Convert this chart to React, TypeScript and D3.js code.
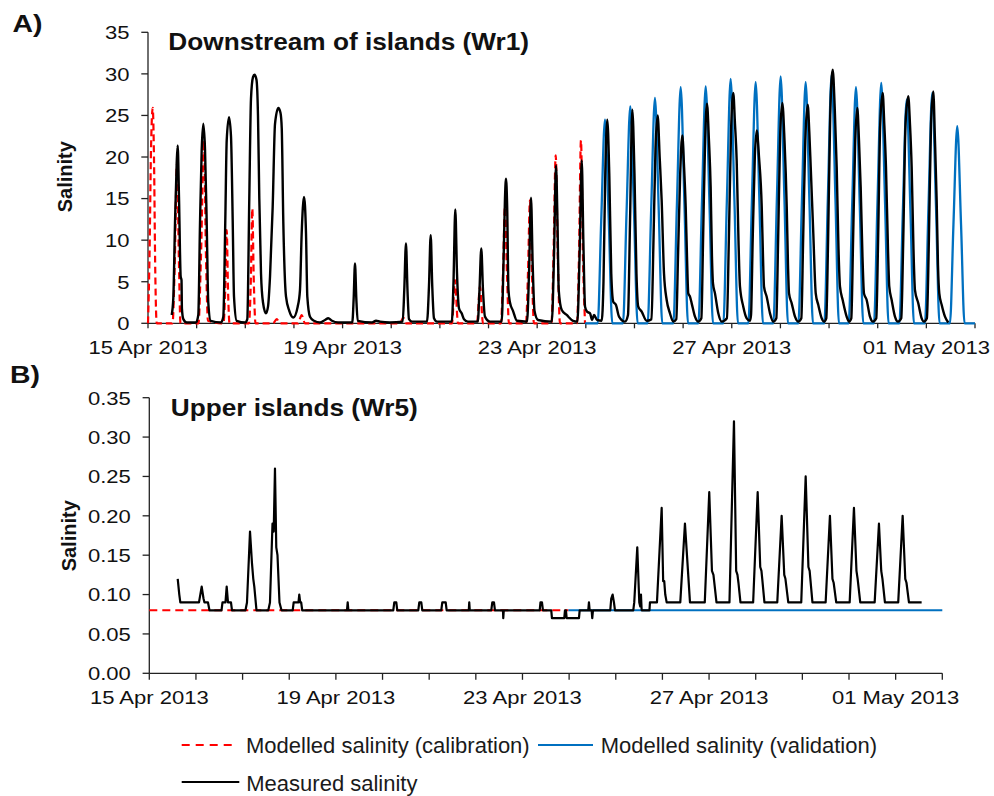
import React, { useEffect, useRef } from 'react';
import {
  curveLinear,
  curveMonotoneX,
  line,
  scaleLinear,
  scaleUtc,
  select,
  utcDay,
  utcFormat,
} from 'd3';

// time is in decimal days after 15 Apr 2013 00:00
const START = Date.UTC(2013, 3, 15);
const END = Date.UTC(2013, 4, 2);
const DAY = 86400000;

const wr1Ticks = [0, 5, 10, 15, 20, 25, 30, 35];
const wr5Ticks = [0, 0.05, 0.1, 0.15, 0.2, 0.25, 0.3, 0.35];

const legendLabels = [
  'Modelled salinity (calibration)',
  'Modelled salinity (validation)',
  'Measured salinity',
];

// A) Downstream of islands (Wr1)
const wr1Calibration: [number, number][] = [
  [0, 0], [0.031, 8], [0.062, 21], [0.097, 25.9], [0.123, 20], [0.15, 6], [0.179, 0],
  [0.504, 0], [0.545, 6], [0.596, 19.2], [0.637, 7], [0.668, 0],
  [1.038, 0], [1.089, 8], [1.151, 22], [1.192, 8], [1.233, 0.3],
  [1.552, 0], [1.587, 4], [1.618, 11.2], [1.645, 4], [1.676, 0],
  [2.076, 0], [2.113, 5], [2.144, 13.8], [2.175, 5], [2.21, 0],
  [2.57, 0], [2.646, 0.5], [2.713, 0],
  [3.083, 0], [3.159, 1.0], [3.227, 0],
  [5.18, 0], [5.248, 0.7], [5.303, 0],
  [6.249, 0], [6.31, 5.2], [6.372, 0],
  [6.762, 0], [6.824, 4.4], [6.886, 0],
  [7.256, 0], [7.297, 6], [7.338, 14], [7.379, 6], [7.42, 0],
  [7.77, 0], [7.811, 6], [7.852, 14.8], [7.893, 6], [7.934, 0],
  [8.294, 0], [8.335, 8], [8.381, 20.2], [8.424, 8], [8.469, 0],
  [8.818, 0], [8.859, 8], [8.9, 22], [8.941, 8], [8.984, 0],
];

const wr1Validation: [number, number][] = [
  [8.984, 0],
  [9.244, 0], [9.316, 12.3], [9.394, 24.5], [9.472, 12.3], [9.544, 0],
  [9.764, 0], [9.836, 13.1], [9.914, 26.1], [9.992, 13.1], [10.064, 0],
  [10.271, 0], [10.343, 13.6], [10.421, 27.1], [10.499, 13.6], [10.571, 0],
  [10.8, 0], [10.872, 14.2], [10.95, 28.4], [11.028, 14.2], [11.1, 0],
  [11.314, 0], [11.386, 14.3], [11.464, 28.5], [11.542, 14.3], [11.614, 0],
  [11.827, 0], [11.899, 14.7], [11.977, 29.4], [12.055, 14.7], [12.127, 0],
  [12.341, 0], [12.413, 14.5], [12.491, 29.0], [12.569, 14.5], [12.641, 0],
  [12.855, 0], [12.927, 14.9], [13.005, 29.7], [13.083, 14.9], [13.155, 0],
  [13.369, 0], [13.441, 14.5], [13.519, 29.0], [13.597, 14.5], [13.669, 0],
  [13.903, 0], [13.975, 15.0], [14.053, 29.9], [14.131, 15.0], [14.203, 0],
  [14.403, 0], [14.475, 14.2], [14.553, 28.4], [14.631, 14.2], [14.703, 0],
  [14.923, 0], [14.995, 14.5], [15.073, 28.9], [15.151, 14.5], [15.223, 0],
  [15.445, 0], [15.517, 13.5], [15.595, 26.9], [15.673, 13.5], [15.745, 0],
  [15.971, 0], [16.043, 13.9], [16.121, 27.7], [16.199, 13.9], [16.271, 0],
  [16.485, 0], [16.557, 11.9], [16.635, 23.7], [16.713, 11.9], [16.785, 0],
  [17, 0],
];

const wr1Measured: [number, number][] = [
  [0.487, 1.0], [0.52, 3], [0.555, 12], [0.59, 19.3], [0.61, 21.4], [0.637, 15.2], [0.672, 5.6],
  [0.689, 5.2], [0.697, 1.8], [0.726, 0.5], [0.795, 0.1], [0.987, 0.1],
  [1.034, 1], [1.069, 12], [1.104, 20.9], [1.137, 24.0], [1.172, 20.9], [1.207, 12], [1.239, 2.5],
  [1.289, 0.3], [1.5, 0.1],
  [1.548, 0.8], [1.589, 12.4], [1.618, 22], [1.665, 24.8], [1.706, 22.5], [1.741, 12.4],
  [1.768, 3.2], [1.823, 0.3], [2.0, 0.1],
  [2.041, 0.5], [2.082, 15], [2.117, 27], [2.158, 29.6], [2.189, 29.9], [2.23, 29.3], [2.261, 25],
  [2.288, 15], [2.323, 6], [2.364, 2.5], [2.425, 1.2], [2.467, 2], [2.508, 5.6], [2.563, 14],
  [2.611, 24], [2.679, 25.9], [2.724, 25.3], [2.749, 23.5], [2.782, 12], [2.837, 3.2],
  [2.904, 1.5], [2.987, 0.7], [3.077, 2], [3.124, 4], [3.159, 10.8], [3.207, 15.2],
  [3.248, 10.8], [3.275, 3.2], [3.33, 0.8], [3.412, 0.3], [3.535, 0.1],
  [3.638, 0.4], [3.706, 0.6], [3.782, 0.3], [3.906, 0.1],
  [4.199, 0.1], [4.228, 3], [4.255, 7.2], [4.282, 3], [4.311, 0.3],
  [4.605, 0.1], [4.687, 0.3], [4.769, 0.2], [4.974, 0.1],
  [5.235, 0.2], [5.268, 4], [5.303, 9.6], [5.334, 4], [5.365, 0.5], [5.427, 0.2],
  [5.735, 0.2], [5.776, 4.5], [5.811, 10.6], [5.843, 4.5], [5.879, 0.6], [5.94, 0.2],
  [6.245, 0.2], [6.28, 5], [6.317, 13.7], [6.352, 6], [6.393, 1.8], [6.448, 1.2], [6.496, 0.5],
  [6.578, 0.2],
  [6.779, 0.2], [6.814, 4], [6.851, 9.0], [6.886, 4], [6.927, 0.8], [7.03, 0.2],
  [7.27, 0.2], [7.307, 7], [7.338, 15], [7.359, 17.4], [7.383, 14], [7.41, 4], [7.441, 2.5],
  [7.503, 1.5], [7.585, 0.3],
  [7.791, 0.2], [7.832, 6], [7.873, 15.1], [7.908, 7], [7.945, 1.5], [8.017, 0.4],
  [8.3, 0.2], [8.346, 8], [8.387, 19.0], [8.418, 12], [8.443, 4], [8.505, 1.6], [8.607, 1],
  [8.737, 0.3],
  [8.826, 0.2], [8.871, 8], [8.916, 19.6], [8.949, 10], [8.984, 2], [9.025, 1.4], [9.087, 1.2],
  [9.128, 0.4], [9.169, 1.0], [9.231, 0.4], [9.326, 0.3],
  [9.363, 5], [9.4, 18], [9.441, 24.5], [9.482, 18], [9.523, 6], [9.564, 2.6], [9.62, 2.2],
  [9.682, 0.8], [9.805, 0.2],
  [9.867, 1], [9.908, 12], [9.955, 25.7], [10.0, 18], [10.041, 6], [10.078, 2], [10.148, 1.4],
  [10.251, 0.3],
  [10.35, 0.5], [10.391, 10], [10.432, 21], [10.477, 25.0], [10.518, 20], [10.559, 14.8],
  [10.607, 6], [10.662, 2.8], [10.73, 1.2], [10.798, 0.2],
  [10.86, 0.5], [10.895, 8], [10.94, 18], [10.983, 22.6], [11.018, 19], [11.053, 14],
  [11.08, 8], [11.106, 3.6], [11.141, 3.2], [11.176, 2.4], [11.244, 0.8], [11.311, 0.2],
  [11.375, 0.6], [11.41, 10], [11.452, 22], [11.49, 26.4], [11.531, 22], [11.566, 16.4],
  [11.593, 8], [11.614, 4.8], [11.655, 3.6], [11.723, 1.2], [11.793, 0.2],
  [11.9, 0.6], [11.94, 10], [11.985, 23], [12.031, 27.7], [12.066, 24], [12.101, 19.6],
  [12.138, 10], [12.169, 4.4], [12.237, 2], [12.307, 0.6], [12.375, 0.3],
  [12.396, 1], [12.43, 10], [12.474, 20], [12.513, 23.2], [12.56, 20], [12.616, 14],
  [12.642, 8], [12.663, 4.4], [12.718, 3.2], [12.786, 1.2], [12.854, 0.2],
  [12.916, 0.6], [12.953, 10], [12.997, 23], [13.039, 26.5], [13.084, 22], [13.13, 14],
  [13.156, 7], [13.177, 3.6], [13.232, 2.4], [13.3, 0.8], [13.368, 0.2],
  [13.43, 0.6], [13.467, 10], [13.511, 22], [13.561, 26.3], [13.594, 23], [13.623, 18.8],
  [13.676, 10.8], [13.726, 3.6], [13.779, 2.2], [13.849, 0.6], [13.896, 0.2],
  [13.943, 0.6], [13.98, 10], [14.024, 25], [14.075, 30.5], [14.116, 26], [14.157, 18.8],
  [14.194, 9], [14.225, 4.4], [14.28, 2.8], [14.362, 0.8], [14.41, 0.2],
  [14.457, 0.6], [14.494, 10], [14.538, 22], [14.58, 25.9], [14.615, 22], [14.65, 16.4],
  [14.687, 8], [14.718, 3.6], [14.773, 2.8], [14.841, 0.8], [14.903, 0.2],
  [14.971, 0.6], [15.008, 10], [15.052, 24], [15.102, 27.7], [15.135, 24], [15.17, 18.8],
  [15.211, 9], [15.238, 4.4], [15.287, 2.8], [15.355, 0.8], [15.417, 0.2],
  [15.484, 0.6], [15.525, 10], [15.572, 24], [15.628, 27.3], [15.663, 24], [15.698, 18.8],
  [15.735, 9], [15.766, 4], [15.834, 2.4], [15.904, 0.6], [15.951, 0.2],
  [16.011, 0.6], [16.052, 10], [16.096, 24], [16.142, 27.9], [16.177, 22], [16.212, 14.8],
  [16.239, 7], [16.266, 3.6], [16.316, 2.2], [16.383, 0.8], [16.45, 0.1],
];

// B) Upper islands (Wr5)
const wr5Calibration: [number, number][] = [[0, 0.08], [8.984, 0.08]];
const wr5Validation: [number, number][] = [[8.984, 0.08], [17, 0.08]];

const wr5Measured: [number, number][] = [
  [0.609, 0.12], [0.643, 0.1], [0.665, 0.09], [1.065, 0.09], [1.123, 0.11], [1.162, 0.095],
  [1.183, 0.09], [1.258, 0.09], [1.29, 0.08], [1.548, 0.08], [1.569, 0.09], [1.633, 0.09],
  [1.659, 0.11], [1.687, 0.09], [1.751, 0.09], [1.773, 0.08], [2.062, 0.08], [2.094, 0.09],
  [2.159, 0.18], [2.201, 0.14], [2.229, 0.12], [2.251, 0.11], [2.298, 0.08], [2.551, 0.08],
  [2.587, 0.09], [2.641, 0.19], [2.667, 0.18], [2.694, 0.26], [2.722, 0.16], [2.748, 0.15],
  [2.791, 0.09], [2.834, 0.08], [3.074, 0.08], [3.095, 0.09], [3.198, 0.09], [3.215, 0.1],
  [3.235, 0.09], [3.256, 0.09], [3.278, 0.08], [4.238, 0.08], [4.253, 0.09], [4.268, 0.08],
  [5.23, 0.08], [5.252, 0.09], [5.295, 0.09], [5.316, 0.08], [5.766, 0.08], [5.788, 0.09],
  [5.831, 0.09], [5.852, 0.08], [6.259, 0.08], [6.281, 0.09], [6.354, 0.09], [6.375, 0.08],
  [6.849, 0.08], [6.859, 0.09], [6.87, 0.08], [7.331, 0.08], [7.353, 0.09], [7.389, 0.09],
  [7.41, 0.08], [7.582, 0.08], [7.588, 0.07], [7.599, 0.08], [8.369, 0.08], [8.386, 0.09],
  [8.418, 0.09], [8.439, 0.08], [8.617, 0.08], [8.632, 0.07], [8.896, 0.07], [8.911, 0.08],
  [8.932, 0.08], [8.947, 0.07], [9.211, 0.07], [9.226, 0.08], [9.41, 0.08], [9.425, 0.09],
  [9.44, 0.08], [9.483, 0.08], [9.496, 0.07], [9.511, 0.08], [9.882, 0.08], [9.903, 0.095],
  [9.933, 0.1], [9.961, 0.09], [9.983, 0.08], [10.375, 0.08], [10.396, 0.09], [10.461, 0.16],
  [10.504, 0.09], [10.525, 0.085], [10.54, 0.1], [10.555, 0.08], [10.722, 0.08],
  [10.733, 0.09], [10.883, 0.09], [10.984, 0.21], [11.016, 0.117], [11.039, 0.117],
  [11.061, 0.1], [11.091, 0.09], [11.383, 0.09], [11.483, 0.19], [11.591, 0.09],
  [11.908, 0.09], [12.004, 0.23], [12.062, 0.13], [12.094, 0.125], [12.159, 0.09],
  [12.437, 0.09], [12.534, 0.32], [12.581, 0.13], [12.609, 0.125], [12.63, 0.115],
  [12.673, 0.09], [12.945, 0.09], [13.042, 0.23], [13.097, 0.135], [13.123, 0.13],
  [13.14, 0.12], [13.187, 0.09], [13.462, 0.09], [13.556, 0.2], [13.612, 0.125],
  [13.637, 0.12], [13.698, 0.09], [13.976, 0.09], [14.071, 0.25], [14.13, 0.135],
  [14.156, 0.13], [14.216, 0.09], [14.499, 0.09], [14.591, 0.2], [14.645, 0.12],
  [14.671, 0.115], [14.726, 0.09], [15.014, 0.09], [15.106, 0.21], [15.16, 0.13],
  [15.185, 0.12], [15.241, 0.09], [15.55, 0.09], [15.642, 0.19], [15.691, 0.13],
  [15.717, 0.12], [15.77, 0.09], [16.055, 0.09], [16.15, 0.2], [16.206, 0.12],
  [16.232, 0.115], [16.285, 0.09], [16.557, 0.09],
];

const RED = '#ff0000';
const BLUE = '#0070c0';
const INK = '#111111';
const FONT = '"Liberation Sans", Arial, sans-serif';

const toDate = (d: number) => new Date(START + d * DAY);

interface Panel {
  left: number;
  right: number;
  bottom: number;
  top: number;
  yMax: number;
  yTicks: number[];
  yFormat: (v: number) => string;
  xTickLen: number;
  series: { data: [number, number][]; color: string; width: number; dash?: string; smooth: boolean }[];
  letter: string;
  letterPos: [number, number];
  title: string;
  titlePos: [number, number];
  yLabelPos: [number, number];
}

const panels: Panel[] = [
  {
    left: 148,
    right: 975,
    bottom: 323.3,
    top: 32.3,
    yMax: 35,
    yTicks: wr1Ticks,
    yFormat: (v) => String(v),
    xTickLen: 5,
    series: [
      { data: wr1Calibration, color: RED, width: 2.2, dash: '7,4', smooth: true },
      { data: wr1Validation, color: BLUE, width: 2.3, smooth: true },
      { data: wr1Measured, color: '#000', width: 2.4, smooth: true },
    ],
    letter: 'A)',
    letterPos: [12.5, 31.7],
    title: 'Downstream of islands (Wr1)',
    titlePos: [168.3, 50],
    yLabelPos: [72, 176.7],
  },
  {
    left: 149.3,
    right: 942.3,
    bottom: 673.3,
    top: 397.7,
    yMax: 0.35,
    yTicks: wr5Ticks,
    yFormat: (v) => v.toFixed(2),
    xTickLen: 6.5,
    series: [
      { data: wr5Calibration, color: RED, width: 2.1, dash: '8,5', smooth: false },
      { data: wr5Validation, color: BLUE, width: 2.1, smooth: false },
      { data: wr5Measured, color: '#000', width: 2.2, smooth: false },
    ],
    letter: 'B)',
    letterPos: [10, 382.7],
    title: 'Upper islands (Wr5)',
    titlePos: [170.7, 415.7],
    yLabelPos: [75.6, 535.8],
  },
];

const App: React.FC = () => {
  const svgRef = useRef<SVGSVGElement>(null);

  useEffect(() => {
    const svg = select(svgRef.current);
    svg.selectAll('*').remove();

    const stretched = (
      parent: any,
      x: number,
      y: number,
      txt: string,
      size: number,
      weight: string,
      anchor: string,
      sx: number,
    ) =>
      parent
        .append('text')
        .attr('transform', `translate(${x},${y}) scale(${sx},1)`)
        .attr('text-anchor', anchor)
        .attr('font-family', FONT)
        .attr('font-size', size)
        .attr('font-weight', weight)
        .attr('fill', INK)
        .text(txt);

    panels.forEach((p) => {
      const g = svg.append('g');
      const xScale = scaleUtc()
        .domain([new Date(START), new Date(END)])
        .range([p.left, p.right]);
      const yScale = scaleLinear().domain([0, p.yMax]).range([p.bottom, p.top]);

      // axes
      g.append('line')
        .attr('x1', p.left)
        .attr('x2', p.left)
        .attr('y1', p.top)
        .attr('y2', p.bottom)
        .attr('stroke', '#222')
        .attr('stroke-width', 1.3);
      g.append('line')
        .attr('x1', p.left)
        .attr('x2', p.right)
        .attr('y1', p.bottom)
        .attr('y2', p.bottom)
        .attr('stroke', '#222')
        .attr('stroke-width', 1.3);

      p.yTicks.forEach((t) => {
        const y = yScale(t);
        g.append('line')
          .attr('x1', p.left - 6.7)
          .attr('x2', p.left)
          .attr('y1', y)
          .attr('y2', y)
          .attr('stroke', '#222')
          .attr('stroke-width', 1.3);
        stretched(g, p.left - 18.5, y + 6.8, p.yFormat(t), 19, 'normal', 'end', 1.16);
      });

      const fmt = utcFormat('%d %b %Y');
      const days = utcDay.range(new Date(START), new Date(END + 1));
      days.forEach((d, i) => {
        const x = xScale(d);
        g.append('line')
          .attr('x1', x)
          .attr('x2', x)
          .attr('y1', p.bottom)
          .attr('y2', p.bottom + p.xTickLen)
          .attr('stroke', '#222')
          .attr('stroke-width', 1.3);
        if (i % 4 === 0) stretched(g, x, p.bottom + 30.3, fmt(d), 19, 'normal', 'middle', 1.16);
      });

      // series
      p.series.forEach((s) => {
        const path = line<[number, number]>()
          .x((d) => xScale(toDate(d[0])))
          .y((d) => yScale(d[1]))
          .curve(s.smooth ? curveMonotoneX : curveLinear);
        g.append('path')
          .attr('d', path(s.data) || '')
          .attr('fill', 'none')
          .attr('stroke', s.color)
          .attr('stroke-width', s.width)
          .attr('stroke-linejoin', 'round')
          .attr('stroke-dasharray', s.dash || null);
      });

      // labels
      stretched(g, p.letterPos[0], p.letterPos[1], p.letter, 23.3, 'bold', 'start', 1.22);
      stretched(g, p.titlePos[0], p.titlePos[1], p.title, 23.2, 'bold', 'start', 1.13);
      g.append('text')
        .attr('transform', `translate(${p.yLabelPos[0]},${p.yLabelPos[1]}) rotate(-90)`)
        .attr('text-anchor', 'middle')
        .attr('font-family', FONT)
        .attr('font-size', 20)
        .attr('font-weight', 'bold')
        .attr('fill', INK)
        .text('Salinity');
    });

    // legend
    const legend = svg.append('g');
    const items = [
      { x: 181.7, y: 745, len: 53.3, color: RED, dash: '8,6', label: legendLabels[0] },
      { x: 538, y: 745, len: 55, color: BLUE, dash: null, label: legendLabels[1] },
      { x: 181.7, y: 782, len: 57.6, color: '#000', dash: null, label: legendLabels[2] },
    ];
    items.forEach((it) => {
      legend
        .append('line')
        .attr('x1', it.x)
        .attr('x2', it.x + it.len)
        .attr('y1', it.y)
        .attr('y2', it.y)
        .attr('stroke', it.color)
        .attr('stroke-width', 2.1)
        .attr('stroke-dasharray', it.dash);
      legend
        .append('text')
        .attr('x', it.x + it.len + (it.color === BLUE ? 7.7 : it.color === RED ? 11 : 7))
        .attr('y', it.y + 7.7 + (it.color === '#000' ? 1 : 0))
        .attr('font-family', FONT)
        .attr('font-size', 22)
        .attr('fill', '#1a1a1a')
        .text(it.label);
    });
  }, []);

  return (
    <svg
      ref={svgRef}
      width={994}
      height={796}
      style={{ position: 'absolute', left: 0, top: 0, background: '#fff' }}
    />
  );
};

export default App;
